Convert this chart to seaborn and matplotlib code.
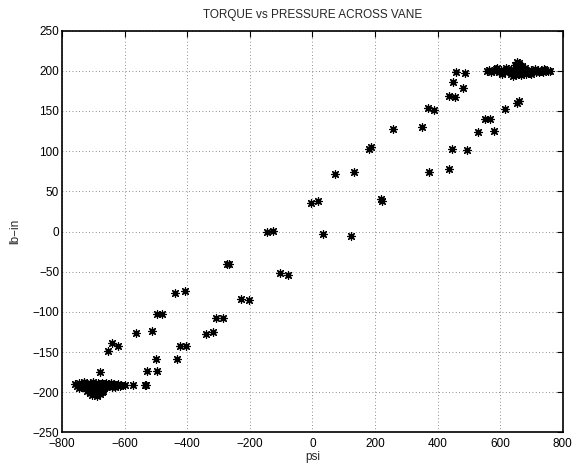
import numpy as np
import pandas as pd
import matplotlib
matplotlib.use("Agg")
import matplotlib.pyplot as plt
import seaborn as sns

# Scattered points (psi, lb-in)
psi_scatter = [-599, -572, -532, -679, -653, -639, -622, -563, -511, -498, -480,
               -501, -529, -495, -534, -440, -407, -423, -404, -434, -341, -316,
               -309, -286, -274, -266, -227, -204, -144, -126, -103, -78,
               -3, 18, 33, 73, 122, 133, 180, 189, 221, 223, 259,
               351, 369, 389, 372, 436, 457, 436, 445, 449, 458, 482, 487, 495,
               529, 551, 569, 581, 617, 655, 662]
torque_scatter = [-191, -191, -191, -175, -149, -139, -142, -126, -124, -103, -102,
                  -159, -174, -173, -191, -77, -74, -142, -143, -159, -127, -125,
                  -107, -108, -41, -41, -84, -85, -1, 1, -51, -54,
                  36, 38, -3, 72, -5, 74, 103, 105, 41, 38, 128,
                  130, 154, 151, 74, 78, 167, 168, 103, 186, 198, 178, 197, 102,
                  124, 140, 140, 125, 153, 160, 162]

# Dense cluster near -700 psi
psi_low = [-758, -752, -746, -740, -735, -730, -725, -720, -715, -710, -705, -700,
           -695, -690, -685, -680, -675, -670, -665, -660, -655, -650, -645, -640,
           -635, -630, -625, -620, -615, -610, -745, -730, -715, -700, -688, -672,
           -660, -645, -630, -720, -712, -704, -696, -688, -680, -672, -668, -705, -690]
torque_low = [-190, -192, -189, -193, -191, -188, -194, -190, -192, -189, -193, -191,
              -190, -194, -188, -192, -190, -193, -191, -189, -192, -190, -191, -193,
              -190, -192, -191, -190, -192, -191, -195, -187, -195, -187, -195, -188,
              -194, -188, -193, -199, -201, -203, -200, -204, -202, -200, -198, -197, -196]

# Dense cluster near +650 psi
psi_high = [558, 565, 572, 580, 588, 595, 602, 610, 617, 625, 632, 640, 647, 655,
            662, 670, 677, 685, 692, 700, 707, 715, 722, 730, 737, 745, 752, 760,
            590, 605, 620, 635, 650, 665, 680, 695, 710, 725, 740, 640, 652, 668,
            684, 700, 655, 662, 648, 670]
torque_high = [200, 201, 199, 200, 202, 199, 201, 200, 198, 202, 200, 201, 199, 200,
               202, 198, 201, 200, 199, 201, 200, 198, 201, 200, 199, 201, 200, 200,
               204, 196, 204, 196, 203, 197, 203, 197, 202, 198, 202, 194, 195, 195,
               196, 196, 211, 210, 207, 206]

psi = psi_scatter + psi_low + psi_high
torque = torque_scatter + torque_low + torque_high
df = pd.DataFrame({"psi": psi, "torque": torque})

x_ticks = [-800, -600, -400, -200, 0, 200, 400, 600, 800]
y_ticks = [-250, -200, -150, -100, -50, 0, 50, 100, 150, 200, 250]

sns.set_style("white")
plt.rcParams['font.family'] = ['Liberation Sans', 'DejaVu Sans']

fig = plt.figure(figsize=(5.79, 4.66), dpi=100)
ax = fig.add_axes([0.1071, 0.0719, 0.8647, 0.8626])

sns.scatterplot(data=df, x="psi", y="torque", ax=ax, marker=(8, 2, 0),
                s=30, color="black", edgecolor="black", linewidth=0.9, legend=False)

ax.set_xlim(-800, 800)
ax.set_ylim(-250, 250)
ax.set_xticks(x_ticks)
ax.set_yticks(y_ticks)
ax.set_xticklabels([str(t).replace("-", "\u2212") for t in x_ticks], fontsize=8.5)
ax.set_yticklabels([str(t).replace("-", "\u2212") for t in y_ticks], fontsize=8.5)
ax.grid(True, linestyle=(0, (1, 3)), color="black", linewidth=0.6, alpha=0.6)
ax.tick_params(direction="in", length=4, width=0.8, top=True, right=True,
               colors="black")
ax.tick_params(axis="x", pad=4)
ax.tick_params(axis="y", pad=2)
for sp in ax.spines.values():
    sp.set_visible(True)
    sp.set_color("black")
    sp.set_linewidth(1.2)

ax.set_title("TORQUE vs PRESSURE ACROSS VANE", fontsize=8.5, pad=9)
ax.set_xlabel("psi", fontsize=8.5, labelpad=1)
ax.set_ylabel("lb\u2212in", fontsize=8.5, labelpad=8)

fig.savefig("out.png", dpi=100)
